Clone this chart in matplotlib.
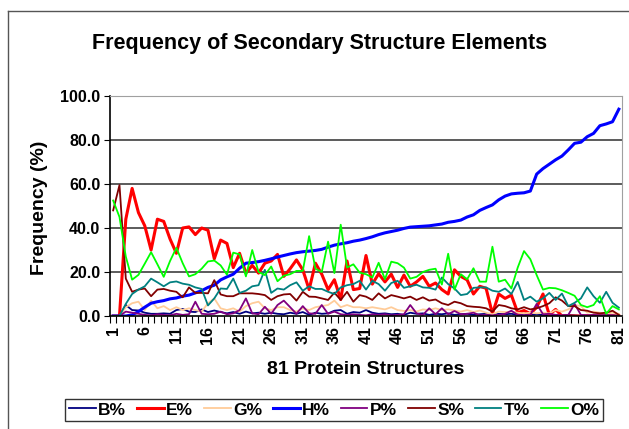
import matplotlib
matplotlib.use('Agg')
import matplotlib.pyplot as plt
import numpy as np

plt.rcParams['font.family'] = ['Liberation Sans', 'DejaVu Sans']

structures = np.arange(1, 82)

B = [0, 0, 5, 2.7, 2.5, 1.5, 1, 1, 1.2, 1, 2.7, 3.2, 2, 1.8, 3, 1.8, 2.5, 1.8, 1.2, 1.8,
     1, 2, 1.2, 1.5, 1, 1.5, 1, 0.8, 1.5, 1, 1.8, 0.5, 1.5, 1, 1.2, 2.4, 2.7, 1, 1.8, 1.5,
     2.7, 1.5, 1, 1.2, 0.8, 1, 0.5, 1.5, 1, 1.2, 0.5, 1, 0.8, 1.2, 0.5, 0.8, 1, 0.5, 0.8, 1,
     0.5, 1, 0.8, 1, 0.5, 1, 0.5, 0.8, 0.5, 0.3, 0.5, 0.3, 0.5, 0.3, 0, 0.3, 0, 0.3, 0, 0.3, 0]
E = [0, 0, 44, 58, 47, 41, 30, 44, 43, 35, 28.5, 40, 40.5, 37, 40, 39, 26, 34.5, 33, 22,
     28.5, 19.5, 23, 19.5, 24, 25, 28, 18, 21.5, 25.5, 21, 12, 24, 19, 12, 16.5, 7.5, 25, 12, 12.5,
     27.5, 14.5, 19.2, 15.5, 19, 13, 18.6, 13.5, 15.5, 18, 13.5, 15, 12, 10, 21, 18, 16.4, 10, 13.5, 12.6,
     1, 10, 8, 9.5, 1.5, 2.5, 1, 4, 10, 0.5, 3, 0, 0, 0, 0, 0, 0, 0, 0, 0, 0]
G = [0, 0, 4, 5.8, 6.5, 2.7, 7, 3.5, 4.5, 2.7, 4, 2.7, 3.5, 2.7, 2, 5.8, 8, 3.5, 2.7, 3.5,
     2, 4.5, 5.8, 6.5, 3.5, 2.7, 4, 4, 2.7, 2, 3.5, 2.7, 4, 4.5, 5, 7, 4, 5, 4, 4,
     3.5, 4, 3.5, 3, 4, 2.7, 2.3, 2.7, 2, 3, 2.7, 3.5, 2.7, 3, 2.5, 2, 2.7, 1.8, 2.5, 1.5,
     0.8, 2, 1.8, 2, 1.5, 1.2, 1.5, 1.2, 1.5, 1.2, 2.7, 2, 3, 5, 4.5, 1.5, 2, 1.5, 1, 1.5, 1]
H = [0, 0, 0, 0.5, 2, 4, 5.8, 6.5, 7, 7.8, 8.2, 9, 9.5, 10.5, 11.5, 13, 14, 16.4, 17.8, 19,
     21.7, 24, 24.3, 24.7, 25.3, 26, 26.8, 27.5, 28.2, 28.8, 29.2, 29.5, 29.8, 30.3, 31.3, 32.2, 32.8, 33.3, 34, 34.5,
     35.2, 36, 37, 37.8, 38.4, 39, 39.8, 40.4, 40.6, 40.8, 41, 41.4, 41.8, 42.6, 43, 43.6, 45, 46, 48, 49.3,
     50.5, 52.8, 54.5, 55.5, 55.8, 56, 56.8, 64.5, 67, 69, 71, 72.7, 75.5, 78.5, 79, 81.5, 83, 86.5, 87.3, 88.3, 94]
P = [0, 0, 2, 1.5, 1, 0.5, 0.3, 0.8, 0.5, 0.3, 1, 0.5, 0.8, 6.5, 1, 0.8, 1, 2, 0.8, 1.2,
     2.7, 8, 1.2, 0.8, 4.2, 1, 5, 7, 4, 1, 4.5, 1.2, 1, 5, 1, 2, 0.8, 0.5, 0.8, 0.5,
     0.3, 0.8, 0.5, 0.8, 0.3, 0.5, 0.8, 5, 1.2, 0.5, 3.5, 0.8, 3.5, 0.8, 2.3, 0.8, 1, 1.5, 0.3, 0.5,
     0.3, 0.5, 1, 2.4, 0.5, 0.3, 0.5, 5.5, 0.8, 1, 0.5, 0.3, 0.5, 5.5, 0.5, 0.3, 0.5, 0.3, 0.5, 0.3, 0]
S = [48, 59.5, 17, 11, 12, 12.5, 9, 12, 12.3, 11.5, 11, 8.5, 13, 10.5, 10.5, 10.3, 16.3, 9.8, 9, 9,
     10.3, 10.3, 10.3, 10, 9.5, 7.3, 9, 9.8, 10, 7, 11, 8.8, 8.7, 8, 7.3, 10.6, 7.3, 11, 6.5, 9.5,
     8.8, 7.3, 10.3, 8, 9.5, 8.8, 8, 8.8, 7.3, 8.5, 7, 7.5, 5.8, 5, 6.5, 5.8, 4.5, 4.2, 4, 3.5,
     2, 5, 4.5, 3.5, 3, 4, 3, 3.5, 4.5, 5.8, 8.5, 7, 4.5, 4.5, 2.7, 2.4, 1.5, 1.2, 1.5, 2.4, 0.5]
T = [0, 0, 5.5, 10, 12, 13.5, 17, 15.3, 13.5, 15.3, 15.7, 14.7, 14.2, 13, 12.3, 4.8, 8, 12.5, 12.3, 17,
     10.5, 11.5, 13.5, 14, 21, 10.5, 12.5, 12, 14, 15.3, 11.5, 13.5, 12.3, 12.3, 11, 10, 13, 14, 14.5, 16,
     12, 16, 14.5, 11.5, 15, 16, 12.8, 13.5, 14.2, 13, 12.8, 12, 17.5, 14.5, 12.5, 9.5, 10, 12.8, 13, 13,
     11.5, 11, 12.5, 10, 15.5, 7.3, 8.8, 6.5, 8, 10.5, 7.3, 10.2, 4.5, 6, 8, 13, 9, 6, 11, 6, 3.8]
O = [52.5, 45, 27, 16.5, 18.7, 23.8, 29, 23.5, 17.8, 25, 31, 24, 18, 19, 21.5, 24.8, 25.2, 23, 18.8, 28.8,
     28, 18, 30, 20, 18.6, 22.5, 15.8, 18.3, 19, 20.5, 20.5, 36.3, 21.5, 20, 33.8, 19.5, 41.5, 22, 23.5, 19.7,
     19, 17.5, 24.2, 16.7, 24.7, 24, 22, 17, 17.8, 20, 21, 21.5, 14.3, 28.3, 12, 19, 16.7, 21.7, 15.6, 15.6,
     31.5, 15.6, 16.5, 12.5, 22, 29.5, 25.8, 18.6, 12, 12.8, 12.6, 11.7, 10.5, 9.2, 5, 4, 5, 9, 1, 4.5, 3]

series = [('B%', B, '#000080', 1.3), ('E%', E, '#FF0000', 2.2), ('G%', G, '#FFCC99', 1.3),
          ('H%', H, '#0000FF', 2.2), ('P%', P, '#800080', 1.3), ('S%', S, '#800000', 1.3),
          ('T%', T, '#008080', 1.3), ('O%', O, '#00FF00', 1.3)]

fig = plt.figure(figsize=(6.29, 4.29), dpi=100)
fig.patch.set_facecolor('white')

# outer chart border (only left and top visible)
fig.add_artist(plt.Line2D([8/629, 8/629], [0, 1 - 11/429], transform=fig.transFigure, color='#555555', lw=1))
fig.add_artist(plt.Line2D([8/629, 1], [1 - 11/429, 1 - 11/429], transform=fig.transFigure, color='#555555', lw=1))

ax = fig.add_axes([110/629, 1 - 316/429, 512/629, 220/429])

for name, vals, col, lw in series:
    ax.plot(structures, vals, color=col, lw=lw, label=name)

ax.set_xlim(0.5, 81.5)
ax.set_ylim(0, 100)
ax.set_yticks([0, 20, 40, 60, 80, 100])
ax.set_yticklabels(['%.1f' % v for v in [0, 20, 40, 60, 80, 100]], fontsize=11.5, fontweight='bold')
for y in [20, 40, 60, 80]:
    ax.axhline(y, color='#404040', lw=1.2, zorder=0)

ax.set_xticks(np.arange(1, 82, 5))
ax.set_xticklabels([str(v) for v in np.arange(1, 82, 5)], rotation=90, fontsize=11.5, fontweight='bold')
ax.set_xticks(np.arange(0.5, 82, 1), minor=True)
ax.tick_params(axis='x', which='major', length=0, pad=7)
ax.tick_params(axis='x', which='minor', length=5, width=0.8, direction='out')
ax.tick_params(axis='y', length=4, width=0.8, direction='out', pad=3)

for side in ['top', 'right']:
    ax.spines[side].set_color('#a0a0a0')
for side in ['left', 'bottom']:
    ax.spines[side].set_color('black')
    ax.spines[side].set_linewidth(1.2)

fig.text(320/629, 1 - 43/429, 'Frequency of Secondary Structure Elements', ha='center', va='center',
         fontsize=15.5, fontweight='bold')
fig.text(40/629, 1 - 208/429, 'Frequency (%)', rotation=90, ha='center', va='center',
         fontsize=14, fontweight='bold')
fig.text(366/629, 1 - 370/429, '81 Protein Structures', ha='center', va='center',
         fontsize=14, fontweight='bold')

leg = fig.legend(loc='center', bbox_to_anchor=(334/629, 1 - 410/429), ncol=8, frameon=True,
                 fancybox=False, edgecolor='black', prop={'weight': 'bold', 'size': 12.5},
                 handlelength=1.55, handletextpad=0.15, columnspacing=0.6, borderpad=0.2)
leg.get_frame().set_linewidth(1.0)

fig.savefig('out.png', dpi=100)
